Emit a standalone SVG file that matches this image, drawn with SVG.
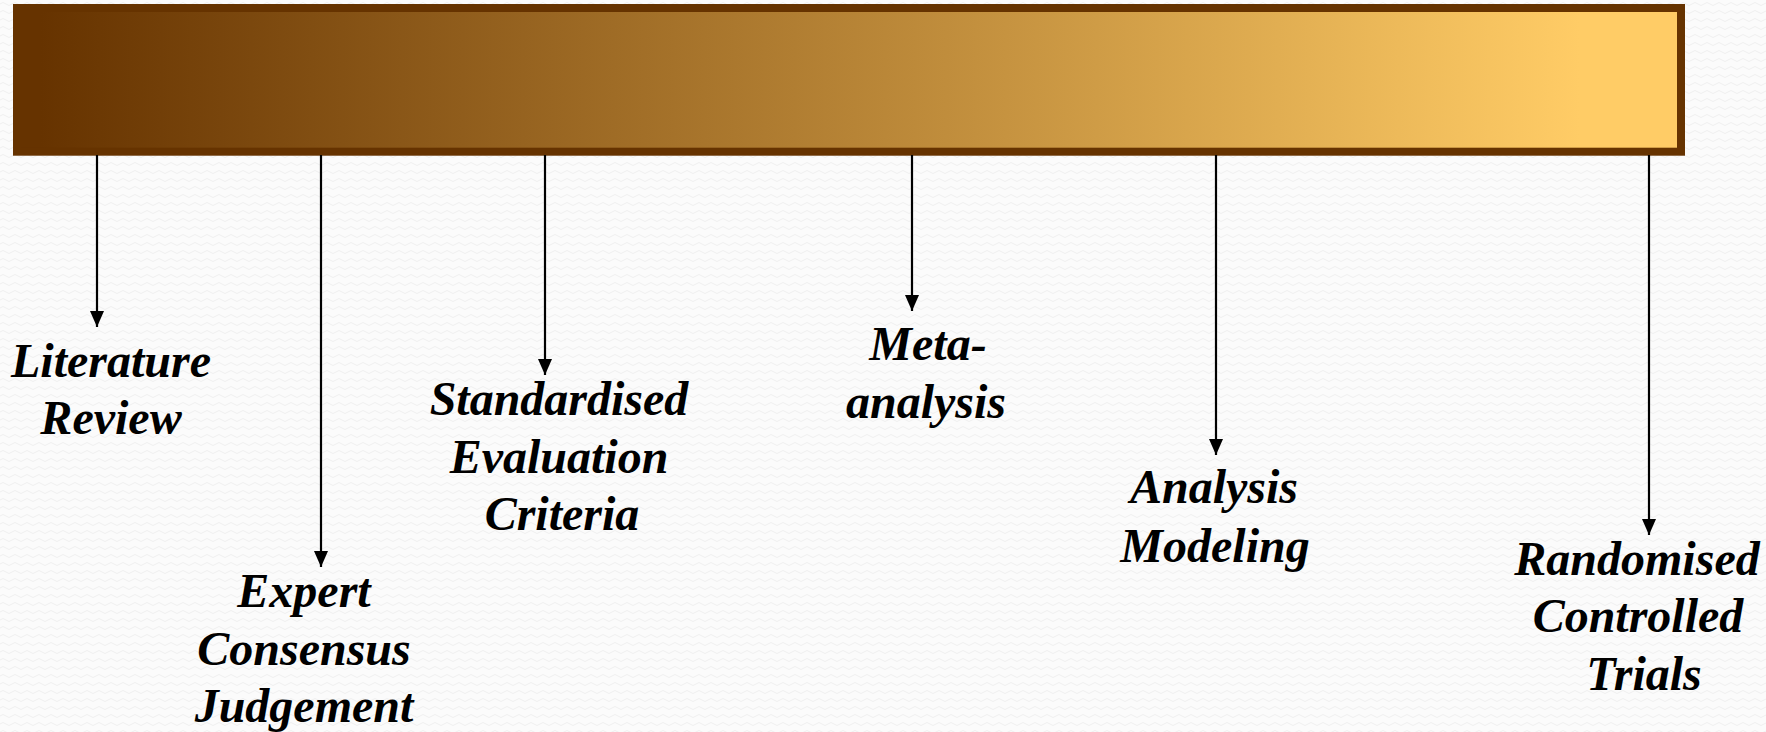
<svg xmlns="http://www.w3.org/2000/svg" width="1766" height="732" viewBox="0 0 1766 732">
  <defs>
    <linearGradient id="barFill" gradientUnits="userSpaceOnUse" x1="40" y1="0" x2="1580" y2="0">
      <stop offset="0" stop-color="#663300"/>
      <stop offset="1" stop-color="#FFCC66"/>
    </linearGradient>
    <pattern id="paper" width="12" height="8" patternUnits="userSpaceOnUse">
      <rect width="12" height="8" fill="#fbfbfb"/>
      <path d="M0 4 Q3 1 6 4 T12 4" fill="none" stroke="#f0f0f0" stroke-width="1"/>
    </pattern>
    <marker id="arrow" viewBox="0 0 16 14" refX="16" refY="7" markerWidth="16" markerHeight="14" markerUnits="userSpaceOnUse" orient="auto">
      <path d="M0 0 L16 7 L0 14 Z" fill="#000"/>
    </marker>
    <style>
      .lbl { font-family: "Liberation Serif", "Times New Roman", serif; font-weight: bold; font-style: italic; font-size: 48px; fill: #000; text-anchor: middle; }
      .link { stroke: #000; stroke-width: 2.2; fill: none; marker-end: url(#arrow); }
    </style>
  </defs>

  <rect width="1766" height="732" fill="url(#paper)"/>

  <!-- graded scale bar -->
  <g id="scale-bar">
    <rect x="17" y="8" width="1664" height="143.7" fill="url(#barFill)" stroke="#663300" stroke-width="8"/>
  </g>

  <!-- connectors from the bar down to each method -->
  <g id="connectors">
    <line class="link" x1="97" y1="155" x2="97" y2="327"/>
    <line class="link" x1="321" y1="155" x2="321" y2="567"/>
    <line class="link" x1="545" y1="155" x2="545" y2="375"/>
    <line class="link" x1="912" y1="155" x2="912" y2="311"/>
    <line class="link" x1="1216" y1="155" x2="1216" y2="455"/>
    <line class="link" x1="1649" y1="155" x2="1649" y2="535"/>
  </g>

  <g id="literature-review">
    <text class="lbl" x="111" y="377">Literature</text>
    <text class="lbl" x="111" y="434">Review</text>
  </g>

  <g id="expert-consensus">
    <text class="lbl" x="304" y="607">Expert</text>
    <text class="lbl" x="304" y="665">Consensus</text>
    <text class="lbl" x="304" y="722">Judgement</text>
  </g>

  <g id="standardised-criteria">
    <text class="lbl" x="559" y="415">Standardised</text>
    <text class="lbl" x="559" y="473">Evaluation</text>
    <text class="lbl" x="562" y="530">Criteria</text>
  </g>

  <g id="meta-analysis">
    <text class="lbl" x="928" y="360">Meta-</text>
    <text class="lbl" x="926" y="418">analysis</text>
  </g>

  <g id="analysis-modeling">
    <text class="lbl" x="1214" y="503">Analysis</text>
    <text class="lbl" x="1215" y="562">Modeling</text>
  </g>

  <g id="randomised-trials">
    <text class="lbl" x="1637" y="575">Randomised</text>
    <text class="lbl" x="1638" y="632">Controlled</text>
    <text class="lbl" x="1644" y="690">Trials</text>
  </g>
</svg>
